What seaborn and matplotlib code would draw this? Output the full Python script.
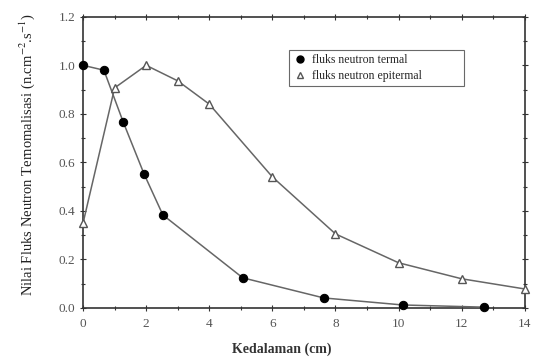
import numpy as np
import pandas as pd
import matplotlib
matplotlib.use("Agg")
import matplotlib.pyplot as plt
import seaborn as sns
from matplotlib.lines import Line2D
from matplotlib.ticker import MultipleLocator, FormatStrFormatter

# Data
depth_termal = [0.0, 0.66, 1.27, 1.93, 2.53, 5.06, 7.63, 10.13, 12.7]
flux_termal = [1.0, 0.98, 0.767, 0.553, 0.383, 0.124, 0.041, 0.012, 0.003]

depth_epi = [0, 1, 2, 3, 4, 6, 8, 10, 12, 14]
flux_epi = [0.35, 0.907, 1.0, 0.936, 0.84, 0.54, 0.305, 0.186, 0.12, 0.078]

label_termal = "fluks neutron termal"
label_epi = "fluks neutron epitermal"

df_t = pd.DataFrame({"x": depth_termal, "y": flux_termal})
df_e = pd.DataFrame({"x": depth_epi, "y": flux_epi})

sns.set_style("ticks")
plt.rcParams["font.family"] = ["Liberation Serif", "DejaVu Serif"]
plt.rcParams["mathtext.fontset"] = "stix"

fig = plt.figure(figsize=(5.36, 3.58), dpi=100)
ax = fig.add_axes([0.155, 0.140, 0.824, 0.813])

line_col = "#666666"
sns.lineplot(data=df_t, x="x", y="y", ax=ax, color=line_col, linewidth=1.1,
             marker="o", markersize=6, markerfacecolor="black",
             markeredgecolor="black", clip_on=False, zorder=3)
sns.lineplot(data=df_e, x="x", y="y", ax=ax, color=line_col, linewidth=1.1,
             marker="^", markersize=6, markerfacecolor="white",
             markeredgecolor="#555555", markeredgewidth=1.0,
             clip_on=False, zorder=3)

ax.set_xlim(0, 14)
ax.set_ylim(0, 1.2)
ax.xaxis.set_major_locator(MultipleLocator(2))
ax.xaxis.set_minor_locator(MultipleLocator(1))
ax.yaxis.set_major_locator(MultipleLocator(0.2))
ax.yaxis.set_minor_locator(MultipleLocator(0.1))
ax.yaxis.set_major_formatter(FormatStrFormatter("%.1f"))
ax.tick_params(which="both", direction="inout", top=True, right=True,
               labelsize=9.5, colors="#333333", labelcolor="#555555")
ax.tick_params(which="major", length=4, width=0.8)
ax.tick_params(axis="x", which="major", pad=5)
ax.tick_params(which="minor", length=2.5, width=0.8)
for side in ax.spines.values():
    side.set_linewidth(1.2)
    side.set_color("#333333")

ax.set_xlabel("Kedalaman (cm)", fontsize=10, fontweight="bold", color="#333333")
ax.xaxis.set_label_coords(0.45, -0.118)
ax.set_ylabel(r"Nilai Fluks Neutron Ternomalisasi (n.cm$^{-2}$.s$^{-1}$)",
              fontsize=10.5, color="#222222")
ax.yaxis.set_label_coords(-0.104, 0.526)

handles = [
    Line2D([], [], linestyle="none", marker="o", markersize=5,
           markerfacecolor="black", markeredgecolor="black"),
    Line2D([], [], linestyle="none", marker="^", markersize=5,
           markerfacecolor="white", markeredgecolor="#555555"),
]
leg = ax.legend(handles, [label_termal, label_epi], loc="upper left",
                bbox_to_anchor=(0.466, 0.756, 0.396, 0.131), mode="expand",
                fontsize=8.5, frameon=True, fancybox=False,
                edgecolor="#444444", handletextpad=0.4, borderpad=0.35,
                labelspacing=0.35, handlelength=1.2, borderaxespad=0)
leg.get_frame().set_linewidth(0.8)

fig.savefig("out.png", dpi=100)
